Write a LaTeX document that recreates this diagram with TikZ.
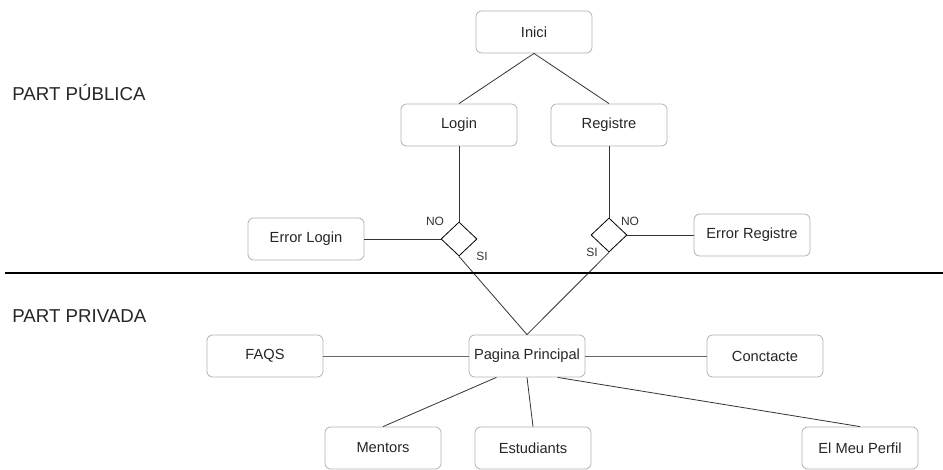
\documentclass[tikz,border=0pt]{standalone}
\usepackage{fontspec}
\setmainfont{Liberation Sans}
\usetikzlibrary{shapes.geometric}
\tikzstyle{block} = [draw=gray!60, rectangle, rounded corners=0.15cm,
    minimum height=31.5pt, minimum width=87pt, text=black!85, font=\fontsize{11}{13}\selectfont]
\tikzstyle{decision} = [draw, diamond, minimum width=27pt, minimum height=25.5pt, inner sep=0pt]
\tikzstyle{answer} = [inner sep=0pt, text=black!80, font=\fontsize{9}{10}\selectfont]
\tikzstyle{part} = [inner sep=0pt, anchor=west, text=black!85, font=\fontsize{14}{16}\selectfont]

\begin{document}
\begin{tikzpicture}[x=0.75pt, y=-0.75pt, node distance=0em, line width=0.6pt]
    \useasboundingbox (0,0) rectangle (943,470);
    % part publica
    \node [block] (inici) at (534,32) {Inici};
    \node [block, below of=inici, xshift=-56.25pt, yshift=-69.75pt] (login) {Login};
    \node [block, below of=inici, xshift=56.25pt, yshift=-69.75pt] (registre) {Registre};
    \node [decision, below of=login, yshift=-85.5pt] (dl) {};
    \node [decision, below of=registre, yshift=-82.5pt] (dr) {};
    \node [block, below of=dl, xshift=-114.75pt] (errl) {Error Login};
    \node [block, below of=dr, xshift=107.25pt] (errr) {Error Registre};
    \node [answer, below of=dl, xshift=-18pt, yshift=13.5pt] (dlno) {NO};
    \node [answer, below of=dl, xshift=17.25pt, yshift=-12.75pt] (dlsi) {SI};
    \node [answer, below of=dr, xshift=-12.75pt, yshift=-12.75pt] (drsi) {SI};
    \node [answer, below of=dr, xshift=15.75pt, yshift=10.5pt] (drno) {NO};

    % part privada
    \node [block, below of=inici, xshift=-5.25pt, yshift=-243pt] (pp) {Pagina Principal};
    \node [block, below of=pp, xshift=-196.5pt] (faqs) {FAQS};
    \node [block, below of=pp, xshift=178.5pt] (conct) {Conctacte};
    \node [block, below of=pp, xshift=-108pt, yshift=-69pt] (mentors) {Mentors};
    \node [block, below of=pp, xshift=4.5pt, yshift=-69pt] (estud) {Estudiants};
    \node [block, below of=pp, xshift=249.75pt, yshift=-69pt] (perfil) {El Meu Perfil};

    \node [part] (pub) at (12,93) {PART PÚBLICA};
    \node [part] (priv) at (12,316) {PART PRIVADA};
    \coordinate (sepl) at (5,273);
    \coordinate (sepr) at (943,273);

    \draw [black!80] (inici.south) -- (login.north);
    \draw [black!80] (inici.south) -- (registre.north);
    \draw [black!80] (login.south) -- (dl.north);
    \draw [black!80] (registre.south) -- (dr.north);
    \draw [black!80] (dl.west) -- (errl.east);
    \draw [black!80] (dr.east) -- (errr.west);
    \draw [black!80] (dl.south) -- (pp.north);
    \draw [black!80] (dr.south) -- (pp.north);
    \draw [black!60] (pp.west) -- (faqs.east);
    \draw [black!60] (pp.east) -- (conct.west);
    \draw [black!80] (pp.215) -- (mentors.north);
    \draw [black!80] (pp.south) -- (estud.north);
    \draw [black!80] (pp.325) -- (perfil.north);
    \draw [black, line width=0.8pt] (sepl) -- (sepr);
\end{tikzpicture}
\end{document}
